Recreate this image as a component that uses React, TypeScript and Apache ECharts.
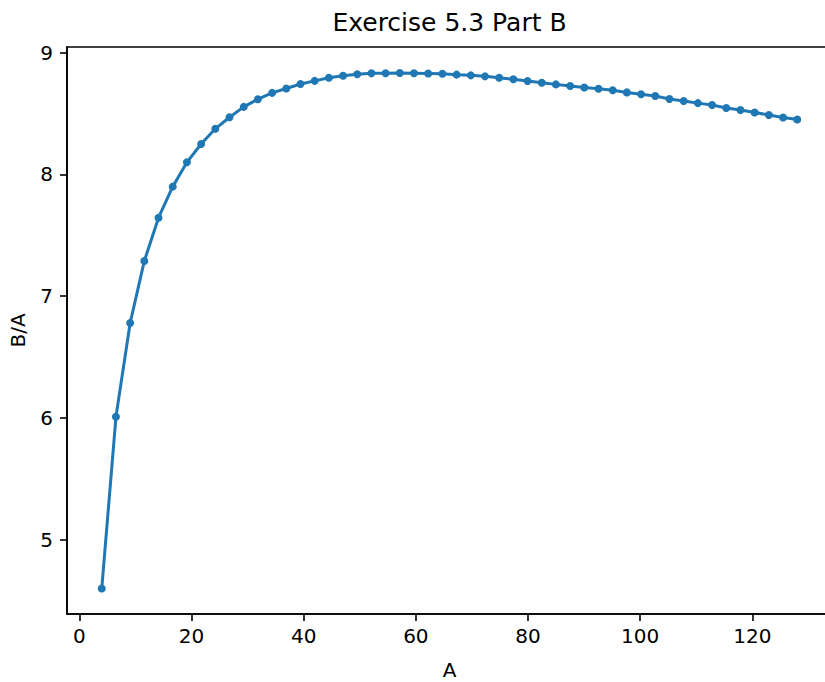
import React, { useEffect, useRef } from "react";
import * as echarts from "echarts";

const A_VALUES: number[] = [
  4.0, 6.53, 9.06, 11.59, 14.12, 16.65, 19.18, 21.71, 24.24, 26.78,
  29.31, 31.84, 34.37, 36.9, 39.43, 41.96, 44.49, 47.02, 49.55, 52.08,
  54.61, 57.14, 59.67, 62.2, 64.73, 67.27, 69.8, 72.33, 74.86, 77.39,
  79.92, 82.45, 84.98, 87.51, 90.04, 92.57, 95.1, 97.63, 100.16, 102.69,
  105.22, 107.76, 110.29, 112.82, 115.35, 117.88, 120.41, 122.94, 125.47, 128.0,
];

const BA_VALUES: number[] = [
  4.6, 6.01, 6.78, 7.29, 7.645, 7.9, 8.1, 8.25, 8.375, 8.47,
  8.555, 8.618, 8.67, 8.706, 8.743, 8.769, 8.795, 8.811, 8.823, 8.832,
  8.832, 8.834, 8.832, 8.83, 8.827, 8.82, 8.814, 8.806, 8.795, 8.782,
  8.768, 8.754, 8.74, 8.727, 8.714, 8.704, 8.692, 8.674, 8.659, 8.644,
  8.62, 8.604, 8.586, 8.57, 8.546, 8.53, 8.509, 8.489, 8.468, 8.452,
];

const X_TICKS: number[] = [0, 20, 40, 60, 80, 100, 120];
const Y_TICKS: number[] = [5, 6, 7, 8, 9];

const TITLE = "Exercise 5.3 Part B";
const X_NAME = "A";
const Y_NAME = "B/A";

const FONT = "'DejaVu Sans', sans-serif";
const BLUE = "#1f77b4";

export default function App() {
  const ref = useRef<HTMLDivElement>(null);

  useEffect(() => {
    if (!ref.current) return;
    const chart = echarts.init(ref.current, null, { renderer: "svg" });
    const data = A_VALUES.map((a, i) => [a, BA_VALUES[i]]);
    chart.setOption({
      animation: false,
      backgroundColor: "#ffffff",
      grid: {
        left: 67,
        right: -7,
        top: 47,
        bottom: 68,
        show: true,
        borderColor: "#000",
        borderWidth: 1.6,
        containLabel: false,
        outerBoundsMode: "none",
      },
      graphic: [
        {
          type: "text",
          x: 449.5,
          y: 22,
          style: {
            text: TITLE,
            fontFamily: FONT,
            fontSize: 25,
            fill: "#000",
            textAlign: "center",
            textVerticalAlign: "middle",
          },
        },
      ],
      xAxis: {
        type: "value",
        min: -2.2,
        max: 134.2,
        name: X_NAME,
        nameLocation: "middle",
        nameGap: 46,
        nameTextStyle: { fontFamily: FONT, fontSize: 20, color: "#000" },
        axisLine: { show: true, onZero: false, lineStyle: { color: "#000", width: 1.6 } },
        axisTick: {
          show: true,
          length: 7,
          inside: false,
          customValues: X_TICKS,
          lineStyle: { color: "#000", width: 1.6 },
        },
        axisLabel: {
          customValues: X_TICKS,
          margin: 12,
          fontFamily: FONT,
          fontSize: 20,
          color: "#000",
        },
        splitLine: { show: false },
      },
      yAxis: {
        type: "value",
        min: 4.39,
        max: 9.047,
        name: Y_NAME,
        nameLocation: "middle",
        nameGap: 39,
        nameTextStyle: { fontFamily: FONT, fontSize: 20, color: "#000" },
        axisLine: { show: true, onZero: false, lineStyle: { color: "#000", width: 1.6 } },
        axisTick: {
          show: true,
          length: 7,
          inside: false,
          customValues: Y_TICKS,
          lineStyle: { color: "#000", width: 1.6 },
        },
        axisLabel: {
          customValues: Y_TICKS,
          margin: 14,
          fontFamily: FONT,
          fontSize: 20,
          color: "#000",
        },
        splitLine: { show: false },
      },
      series: [
        {
          type: "line",
          data,
          symbol: "circle",
          symbolSize: 8,
          showSymbol: true,
          lineStyle: { color: BLUE, width: 3 },
          itemStyle: { color: BLUE },
          clip: false,
        },
      ],
    });
    return () => chart.dispose();
  }, []);

  return (
    <div
      ref={ref}
      style={{ position: "fixed", left: 0, top: 0, width: 825, height: 682, background: "#fff" }}
    />
  );
}
